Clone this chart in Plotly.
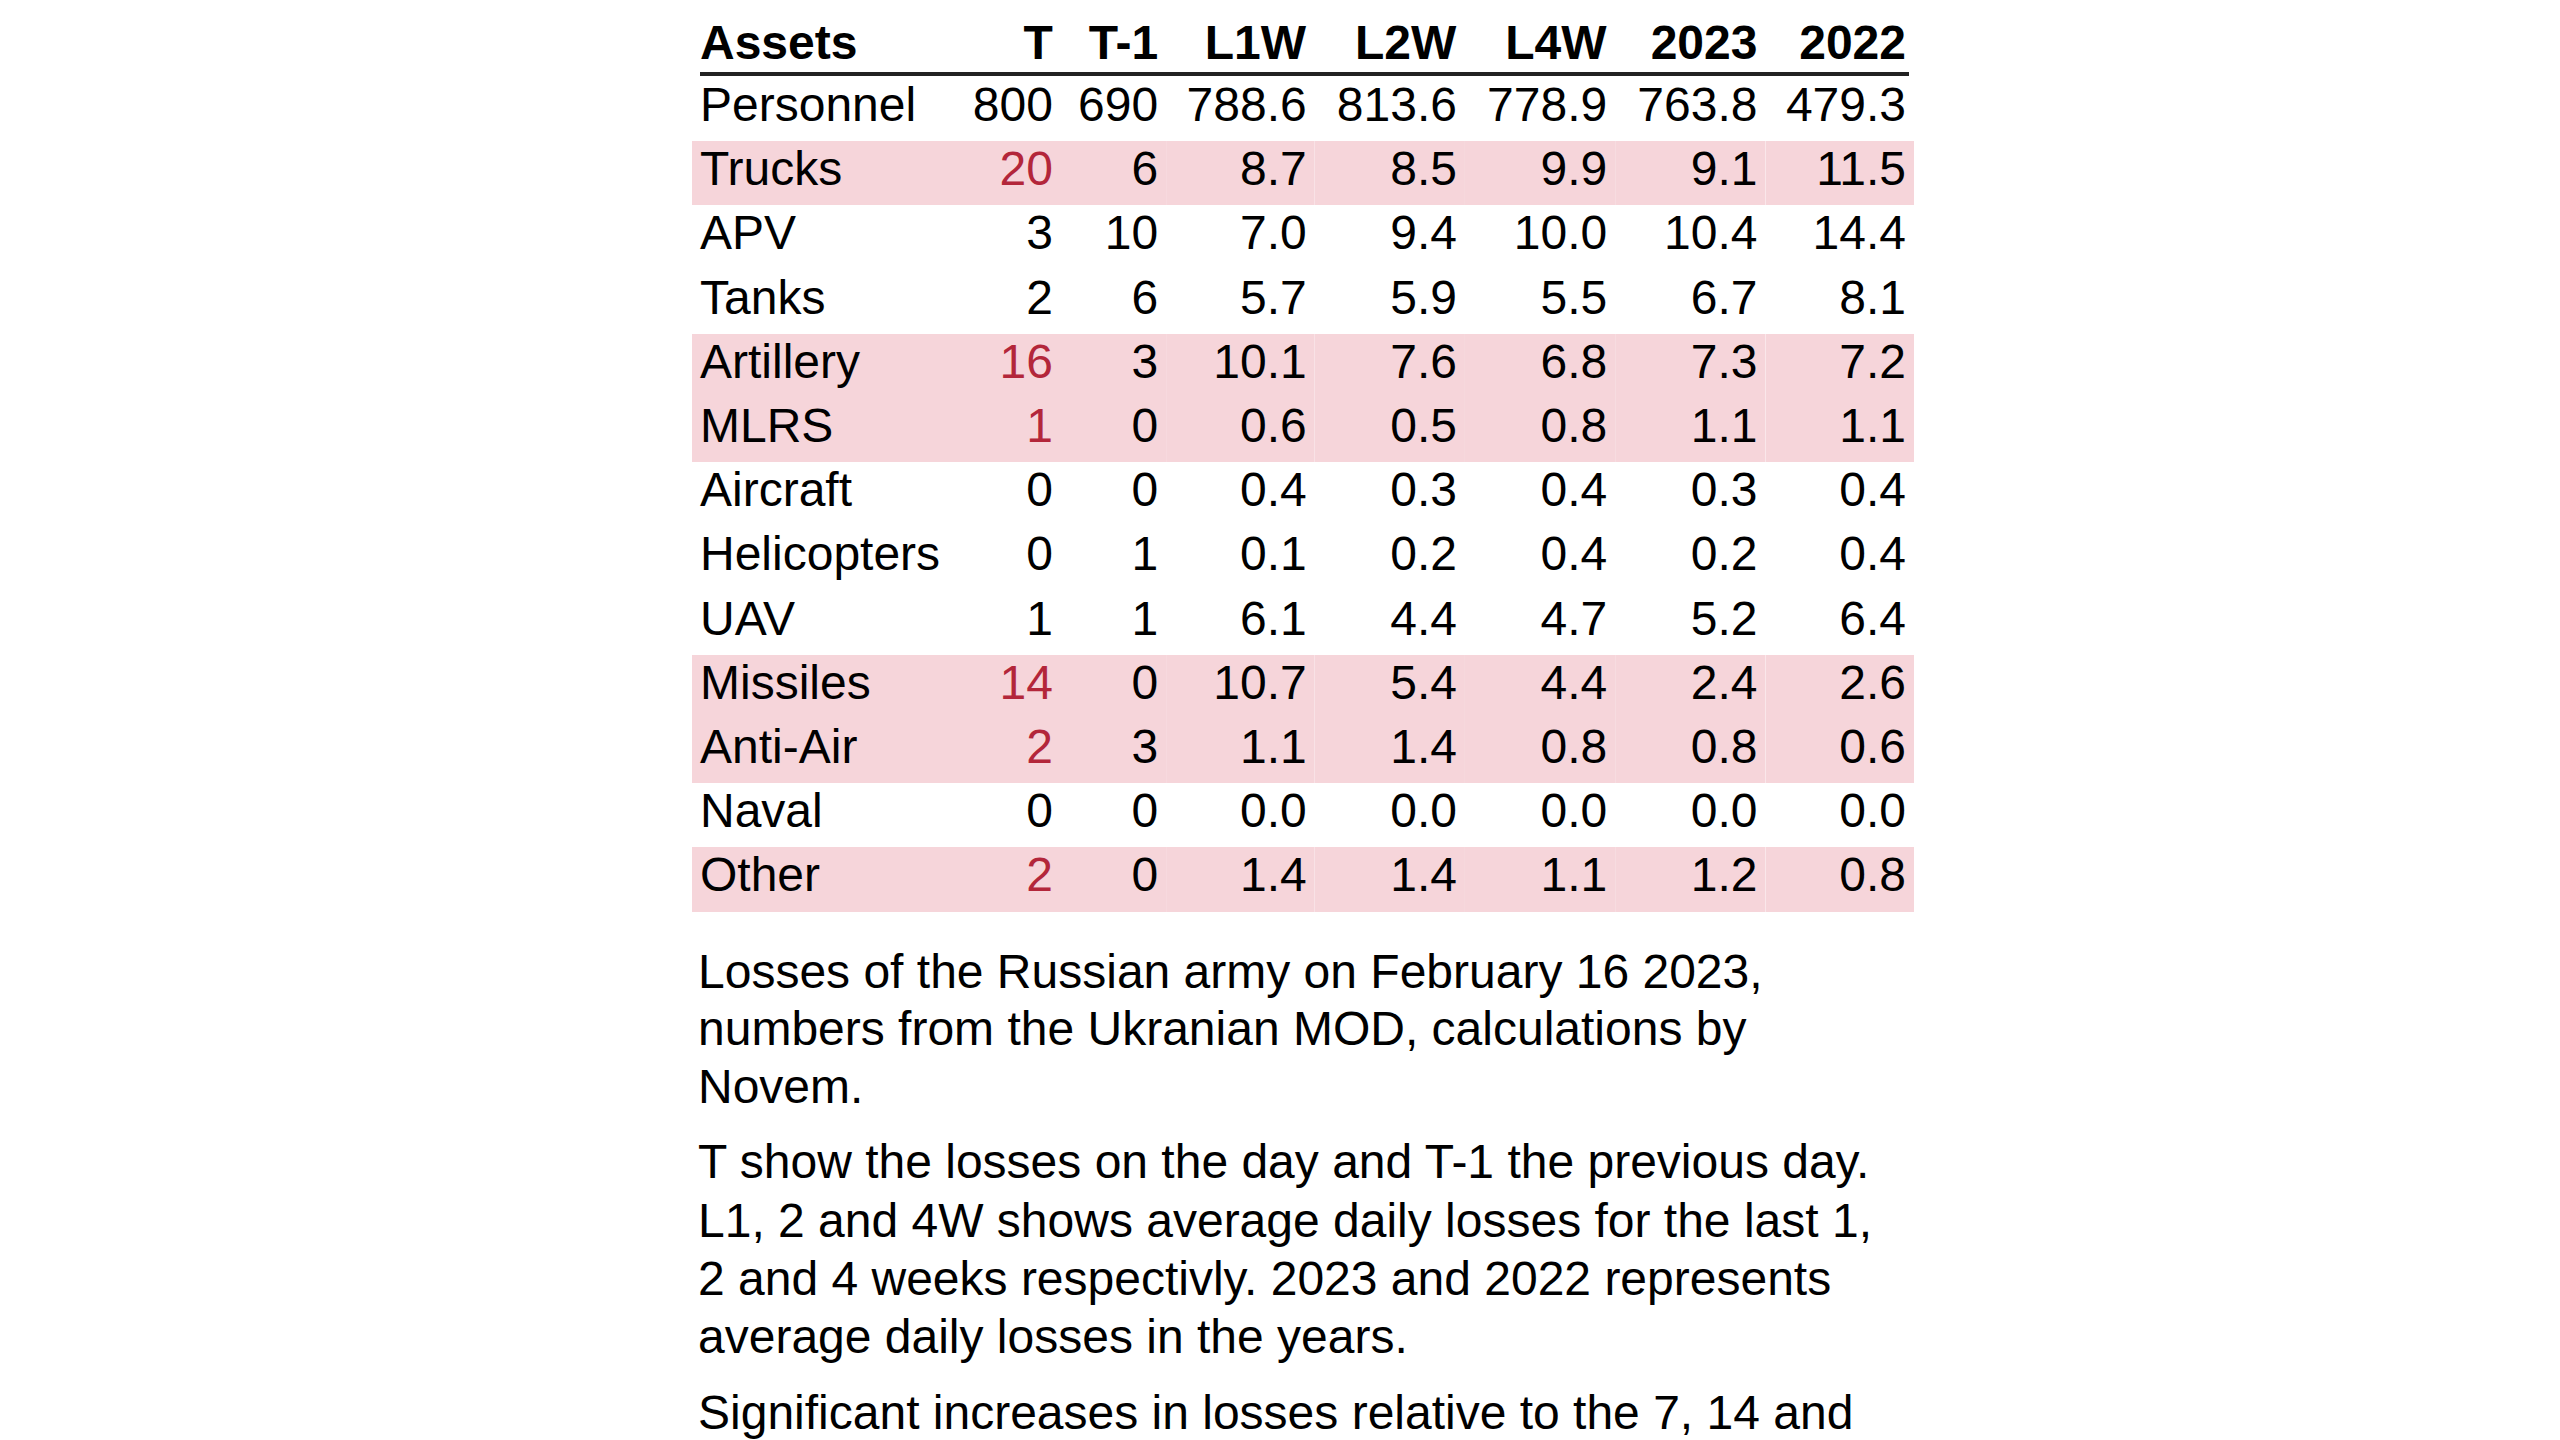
import plotly.graph_objects as go

assets = ["Personnel", "Trucks", "APV", "Tanks", "Artillery", "MLRS", "Aircraft",
          "Helicopters", "UAV", "Missiles", "Anti-Air", "Naval", "Other"]
t_vals = [800, 20, 3, 2, 16, 1, 0, 0, 1, 14, 2, 0, 2]
t1_vals = [690, 6, 10, 6, 3, 0, 0, 1, 1, 0, 3, 0, 0]
l1w = [788.6, 8.7, 7.0, 5.7, 10.1, 0.6, 0.4, 0.1, 6.1, 10.7, 1.1, 0.0, 1.4]
l2w = [813.6, 8.5, 9.4, 5.9, 7.6, 0.5, 0.3, 0.2, 4.4, 5.4, 1.4, 0.0, 1.4]
l4w = [778.9, 9.9, 10.0, 5.5, 6.8, 0.8, 0.4, 0.4, 4.7, 4.4, 0.8, 0.0, 1.1]
y2023 = [763.8, 9.1, 10.4, 6.7, 7.3, 1.1, 0.3, 0.2, 5.2, 2.4, 0.8, 0.0, 1.2]
y2022 = [479.3, 11.5, 14.4, 8.1, 7.2, 1.1, 0.4, 0.4, 6.4, 2.6, 0.6, 0.0, 0.8]
headers = ["Assets", "T", "T-1", "L1W", "L2W", "L4W", "2023", "2022"]
note_lines = [
    "Losses of the Russian army on February 16 2023,",
    "numbers from the Ukranian MOD, calculations by",
    "Novem.",
    "T show the losses on the day and T-1 the previous day.",
    "L1, 2 and 4W shows average daily losses for the last 1,",
    "2 and 4 weeks respectivly. 2023 and 2022 represents",
    "average daily losses in the years.",
    "Significant increases in losses relative to the 7, 14 and",
    "28 day averages highlighted in red.",
]

PINK = "#f6d5da"
RED = "#b3263a"
W, H = 2560, 1440
FS = 48
ROWH = 64.2
S = 1.652

flags = [t > max(a, b, c) for t, a, b, c in zip(t_vals, l1w, l2w, l4w)]
row_fill = [PINK if f else "white" for f in flags]
t_font = [RED if f else "black" for f in flags]

cols = [assets, [str(v) for v in t_vals], [str(v) for v in t1_vals],
        [f"{v:.1f}" for v in l1w], [f"{v:.1f}" for v in l2w], [f"{v:.1f}" for v in l4w],
        [f"{v:.1f}" for v in y2023], [f"{v:.1f}" for v in y2022]]
font_colors = [["black"] * len(assets), t_font] + [["black"] * len(assets)] * 6

x0, x1 = 684, 1906
top = 0
fig = go.Figure(go.Table(
    domain=dict(x=[x0 / W, x1 / W], y=[0, 1 - top / H]),
    columnwidth=[166, 55, 63, 89, 90, 90, 90, 89],
    header=dict(values=[f"<b>{h}</b>" for h in headers],
                align=["left"] + ["right"] * 7, height=ROWH,
                fill_color="white", line=dict(width=0, color="white"),
                font=dict(family="Liberation Sans, Arial", size=FS, color="black")),
    cells=dict(values=cols, align=["left"] + ["right"] * 7, height=ROWH,
               fill_color=[row_fill] * 8, line=dict(width=0, color="rgba(0,0,0,0)"),
               font=dict(family="Liberation Sans, Arial", size=FS, color=font_colors)),
))

fig.add_shape(type="line", xref="paper", yref="paper", x0=692 / W, x1=1901 / W,
              y0=1 - 66 / H, y1=1 - 66 / H, line=dict(color="#222", width=4))

line_centers = [583, 618, 653, 698, 734, 769, 804, 850, 885]
for txt, c in zip(note_lines, line_centers):
    fig.add_annotation(text=txt, xref="paper", yref="paper", x=688 / W, y=1 - c * S / H,
                       xanchor="left", yanchor="middle", align="left", showarrow=False,
                       font=dict(family="Liberation Sans, Arial", size=FS, color="black"))

fig.update_layout(width=W, height=H, margin=dict(l=0, r=0, t=0, b=0),
                  paper_bgcolor="white", plot_bgcolor="white")
fig.write_html("out.html")
